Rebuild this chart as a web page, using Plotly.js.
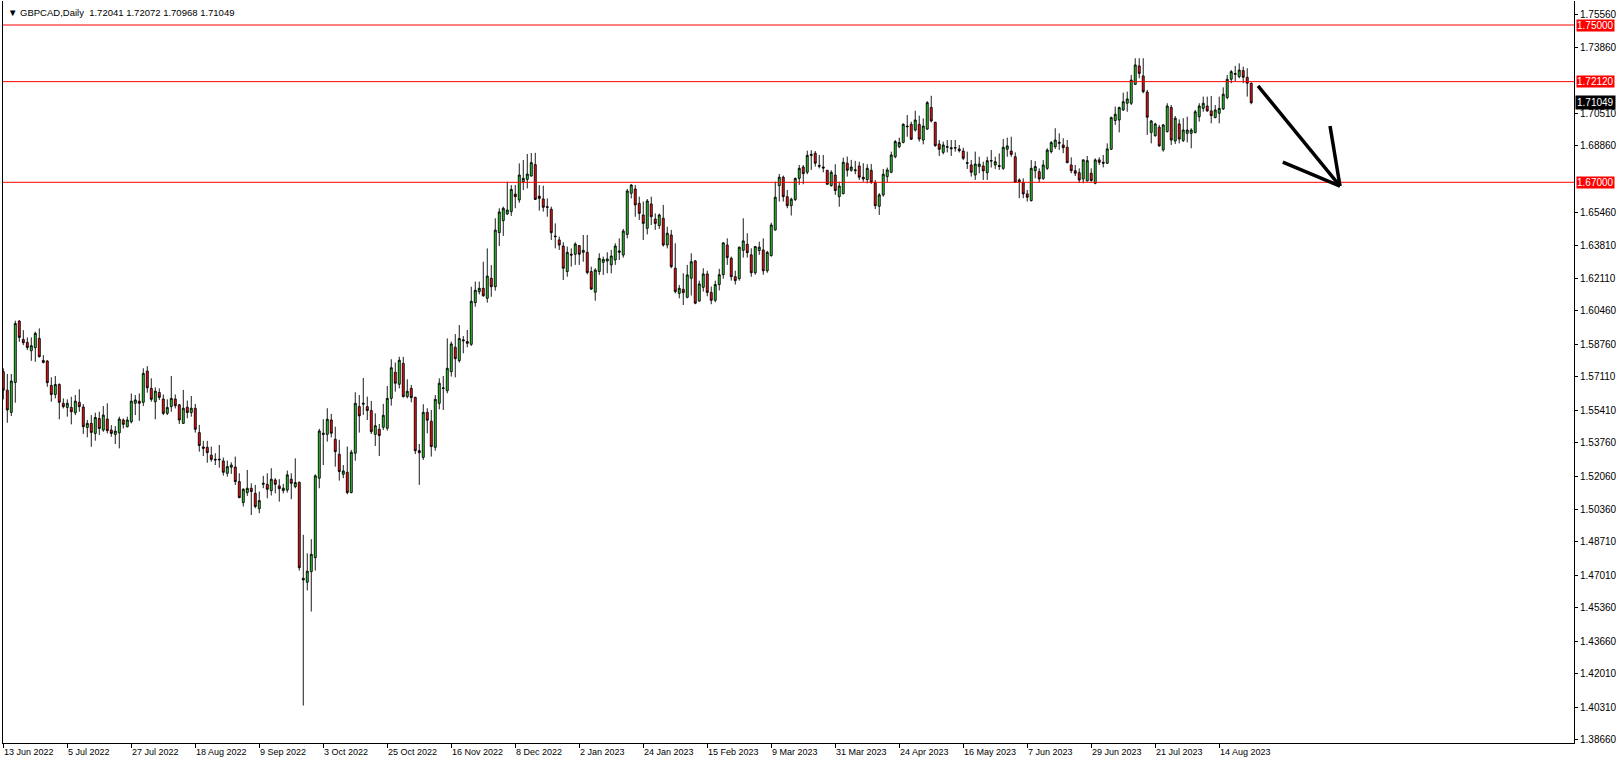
<!DOCTYPE html>
<html>
<head>
<meta charset="utf-8">
<script src="https://cdn.plot.ly/plotly-3.0.1.min.js"></script>
<style>
html,body{margin:0;padding:0;background:#fff;}
#chart{width:1620px;height:764px;}
</style>
</head>
<body>
<div id="chart"></div>
<script>
// ---- data ----
const symbol = "GBPCAD,Daily";
const firstDate = "2022-06-13";
const barCount = 313;
const closedDays = ["2022-12-26"];

const open = [
1.5737,1.5643,1.5530,1.5682,1.5994,1.5901,1.5886,1.5843,1.5859,1.5906,
1.5794,1.5791,1.5667,1.5621,1.5672,1.5576,1.5555,1.5555,1.5528,1.5581,
1.5557,1.5453,1.5474,1.5423,1.5499,1.5440,1.5496,1.5440,1.5418,1.5426,
1.5491,1.5457,1.5482,1.5576,1.5587,1.5581,1.5740,1.5652,1.5584,1.5631,
1.5598,1.5525,1.5559,1.5598,1.5568,1.5474,1.5556,1.5529,1.5551,1.5427,
1.5354,1.5352,1.5312,1.5291,1.5288,1.5283,1.5220,1.5251,1.5252,1.5178,
1.5071,1.5122,1.5144,1.5118,1.5040,1.5164,1.5164,1.5132,1.5186,1.5156,
1.5132,1.5135,1.5190,1.5152,1.5174,1.4686,1.4666,1.4720,1.4791,1.5195,
1.5424,1.5418,1.5491,1.5393,1.5317,1.5215,1.5225,1.5122,1.5322,1.5559,
1.5571,1.5559,1.5539,1.5418,1.5444,1.5454,1.5449,1.5601,1.5734,1.5673,
1.5779,1.5610,1.5652,1.5606,1.5335,1.5301,1.5530,1.5485,1.5352,1.5576,
1.5651,1.5640,1.5737,1.5861,1.5793,1.5893,1.5890,1.5876,1.6088,1.6144,
1.6161,1.6110,1.6212,1.6169,1.6444,1.6505,1.6539,1.6551,1.6640,1.6610,
1.6703,1.6715,1.6732,1.6790,1.6630,1.6615,1.6576,1.6563,1.6427,1.6407,
1.6376,1.6246,1.6334,1.6334,1.6378,1.6344,1.6344,1.6246,1.6141,1.6246,
1.6293,1.6300,1.6280,1.6305,1.6351,1.6330,1.6435,1.6644,1.6666,1.6593,
1.6534,1.6466,1.6590,1.6513,1.6480,1.6517,1.6381,1.6432,1.6263,1.6135,
1.6156,1.6115,1.6212,1.6300,1.6096,1.6166,1.6234,1.6140,1.6100,1.6180,
1.6230,1.6381,1.6314,1.6220,1.6210,1.6354,1.6385,1.6331,1.6240,1.6353,
1.6356,1.6250,1.6327,1.6458,1.6683,1.6726,1.6627,1.6581,1.6612,1.6720,
1.6778,1.6751,1.6836,1.6848,1.6786,1.6778,1.6761,1.6683,1.6737,1.6627,
1.6642,1.6797,1.6761,1.6759,1.6783,1.6726,1.6714,1.6761,1.6698,1.6578,
1.6636,1.6729,1.6751,1.6830,1.6881,1.6903,1.6986,1.6995,1.6966,1.6995,
1.6915,1.6971,1.7081,1.7005,1.6895,1.6852,1.6878,1.6876,1.6874,1.6869,
1.6859,1.6800,1.6788,1.6737,1.6780,1.6783,1.6749,1.6808,1.6788,1.6785,
1.6771,1.6868,1.6859,1.6830,1.6712,1.6700,1.6641,1.6607,1.6759,1.6754,
1.6720,1.6771,1.6856,1.6881,1.6898,1.6890,1.6878,1.6788,1.6759,1.6749,
1.6717,1.6707,1.6746,1.6695,1.6814,1.6802,1.6797,1.6868,1.7014,1.7017,
1.7068,1.7102,1.7102,1.7198,1.7292,1.7241,1.7159,1.6954,1.6937,1.6980,
1.6865,1.6958,1.7081,1.6910,1.6997,1.6912,1.6949,1.6949,1.6953,1.7034,
1.7076,1.7088,1.7063,1.7029,1.7051,1.7073,1.7131,1.7224,1.7249,1.7237,
1.7268,1.7234,1.72041];
const high = [
1.5754,1.5725,1.5725,1.5996,1.5999,1.5948,1.5911,1.5911,1.5940,1.5957,
1.5821,1.5796,1.5708,1.5715,1.5677,1.5601,1.5596,1.5609,1.5618,1.5647,
1.5572,1.5491,1.5516,1.5528,1.5533,1.5562,1.5576,1.5465,1.5460,1.5508,
1.5499,1.5508,1.5626,1.5618,1.5626,1.5754,1.5765,1.5703,1.5657,1.5652,
1.5621,1.5596,1.5715,1.5621,1.5573,1.5644,1.5590,1.5613,1.5573,1.5466,
1.5385,1.5385,1.5356,1.5322,1.5364,1.5300,1.5285,1.5276,1.5305,1.5220,
1.5144,1.5237,1.5169,1.5161,1.5127,1.5207,1.5220,1.5246,1.5195,1.5190,
1.5166,1.5234,1.5220,1.5296,1.5178,1.4907,1.4813,1.4885,1.5215,1.5446,
1.5495,1.5551,1.5522,1.5457,1.5390,1.5262,1.5356,1.5339,1.5632,1.5618,
1.5705,1.5610,1.5588,1.5525,1.5471,1.5573,1.5664,1.5800,1.5783,1.5813,
1.5812,1.5698,1.5669,1.5610,1.5369,1.5571,1.5551,1.5542,1.5618,1.5703,
1.5715,1.5906,1.5890,1.5928,1.5974,1.5918,1.5949,1.6169,1.6195,1.6195,
1.6296,1.6364,1.6279,1.6517,1.6568,1.6576,1.6703,1.6686,1.6686,1.6796,
1.6813,1.6844,1.6849,1.6850,1.6686,1.6683,1.6618,1.6576,1.6491,1.6424,
1.6395,1.6373,1.6364,1.6395,1.6381,1.6432,1.6432,1.6271,1.6263,1.6339,
1.6322,1.6344,1.6356,1.6390,1.6415,1.6463,1.6666,1.6691,1.6686,1.6627,
1.6602,1.6615,1.6627,1.6542,1.6541,1.6585,1.6474,1.6458,1.6390,1.6178,
1.6237,1.6280,1.6339,1.6305,1.6200,1.6263,1.6250,1.6170,1.6200,1.6260,
1.6395,1.6415,1.6322,1.6250,1.6373,1.6517,1.6441,1.6364,1.6376,1.6398,
1.6415,1.6351,1.6495,1.6703,1.6742,1.6734,1.6661,1.6622,1.6724,1.6788,
1.6788,1.6861,1.6863,1.6859,1.6839,1.6839,1.6763,1.6761,1.6792,1.6703,
1.6825,1.6831,1.6814,1.6809,1.6805,1.6797,1.6792,1.6793,1.6712,1.6645,
1.6768,1.6775,1.6856,1.6915,1.6927,1.7000,1.7042,1.7008,1.7064,1.7039,
1.7025,1.7113,1.7140,1.7008,1.6915,1.6907,1.6915,1.6915,1.6915,1.6890,
1.6876,1.6856,1.6813,1.6856,1.6830,1.6805,1.6830,1.6864,1.6830,1.6847,
1.6920,1.6927,1.6932,1.6852,1.6720,1.6720,1.6661,1.6813,1.6808,1.6771,
1.6813,1.6873,1.6910,1.6975,1.6949,1.6924,1.6915,1.6827,1.6788,1.6771,
1.6817,1.6834,1.6771,1.6822,1.6827,1.6839,1.6898,1.7034,1.7085,1.7085,
1.7156,1.7161,1.7246,1.7331,1.7331,1.7331,1.7170,1.7017,1.7003,1.6992,
1.6997,1.7102,1.7093,1.7037,1.7020,1.7026,1.7034,1.6975,1.7068,1.7102,
1.7136,1.7136,1.7139,1.7093,1.7136,1.7183,1.7246,1.7271,1.7292,1.7305,
1.7288,1.7280,1.72072];
const low = [
1.5596,1.5477,1.5511,1.5579,1.5889,1.5872,1.5847,1.5792,1.5787,1.5809,
1.5779,1.5660,1.5584,1.5601,1.5494,1.5550,1.5508,1.5469,1.5516,1.5533,
1.5420,1.5403,1.5355,1.5386,1.5415,1.5431,1.5423,1.5406,1.5369,1.5347,
1.5448,1.5453,1.5474,1.5516,1.5487,1.5562,1.5630,1.5584,1.5494,1.5593,
1.5516,1.5516,1.5533,1.5550,1.5471,1.5471,1.5500,1.5508,1.5427,1.5330,
1.5308,1.5274,1.5279,1.5262,1.5249,1.5208,1.5203,1.5217,1.5161,1.5094,
1.5051,1.5105,1.5008,1.5042,1.5017,1.5144,1.5093,1.5107,1.5118,1.5076,
1.5118,1.5122,1.5088,1.5144,1.4725,1.4039,1.4624,1.4517,1.4725,1.5144,
1.5262,1.5381,1.5403,1.5254,1.5183,1.5195,1.5113,1.5118,1.5284,1.5427,
1.5517,1.5491,1.5420,1.5359,1.5308,1.5440,1.5437,1.5564,1.5635,1.5652,
1.5605,1.5601,1.5581,1.5318,1.5161,1.5288,1.5423,1.5305,1.5335,1.5545,
1.5542,1.5627,1.5712,1.5708,1.5783,1.5830,1.5861,1.5868,1.6067,1.6130,
1.6118,1.6088,1.6118,1.6149,1.6376,1.6427,1.6534,1.6529,1.6568,1.6596,
1.6661,1.6669,1.6729,1.6610,1.6556,1.6551,1.6525,1.6407,1.6364,1.6356,
1.6203,1.6220,1.6271,1.6280,1.6280,1.6296,1.6232,1.6152,1.6098,1.6229,
1.6229,1.6237,1.6237,1.6280,1.6305,1.6317,1.6415,1.6618,1.6525,1.6508,
1.6407,1.6435,1.6483,1.6458,1.6463,1.6373,1.6364,1.6263,1.6135,1.6110,
1.6076,1.6110,1.6124,1.6080,1.6093,1.6144,1.6120,1.6080,1.6090,1.6150,
1.6210,1.6280,1.6200,1.6180,1.6200,1.6317,1.6317,1.6220,1.6230,1.6331,
1.6230,1.6240,1.6322,1.6454,1.6602,1.6602,1.6568,1.6531,1.6605,1.6687,
1.6690,1.6741,1.6763,1.6780,1.6771,1.6751,1.6687,1.6678,1.6636,1.6576,
1.6639,1.6729,1.6754,1.6741,1.6712,1.6703,1.6695,1.6692,1.6564,1.6534,
1.6627,1.6700,1.6746,1.6822,1.6873,1.6898,1.6932,1.6915,1.6958,1.6907,
1.6893,1.6966,1.7005,1.6881,1.6834,1.6842,1.6852,1.6834,1.6856,1.6852,
1.6813,1.6768,1.6729,1.6712,1.6746,1.6712,1.6712,1.6775,1.6768,1.6763,
1.6763,1.6830,1.6830,1.6698,1.6619,1.6619,1.6602,1.6602,1.6720,1.6700,
1.6712,1.6763,1.6847,1.6870,1.6865,1.6848,1.6797,1.6746,1.6732,1.6698,
1.6695,1.6705,1.6703,1.6690,1.6788,1.6776,1.6793,1.6865,1.6992,1.6954,
1.7063,1.7059,1.7093,1.7195,1.7229,1.7153,1.6941,1.6898,1.6932,1.6881,
1.6856,1.6953,1.6890,1.6895,1.6898,1.6905,1.6903,1.6873,1.6949,1.7009,
1.7059,1.7059,1.7000,1.7026,1.7000,1.7068,1.7122,1.7204,1.7215,1.7229,
1.7204,1.7136,1.70968];
const close = [
1.5643,1.5542,1.5689,1.5982,1.5911,1.5884,1.5860,1.5869,1.5932,1.5813,
1.5784,1.5681,1.5621,1.5672,1.5581,1.5559,1.5576,1.5533,1.5587,1.5559,
1.5457,1.5474,1.5428,1.5504,1.5448,1.5516,1.5437,1.5423,1.5435,1.5496,
1.5469,1.5491,1.5587,1.5593,1.5576,1.5728,1.5655,1.5596,1.5638,1.5606,
1.5525,1.5555,1.5601,1.5564,1.5491,1.5551,1.5529,1.5551,1.5444,1.5361,
1.5347,1.5325,1.5291,1.5288,1.5291,1.5225,1.5254,1.5262,1.5178,1.5096,
1.5139,1.5144,1.5127,1.5051,1.5081,1.5169,1.5139,1.5190,1.5164,1.5142,
1.5144,1.5212,1.5169,1.5173,1.4740,1.4678,1.4722,1.4808,1.5207,1.5435,
1.5418,1.5495,1.5424,1.5330,1.5229,1.5232,1.5122,1.5327,1.5576,1.5512,
1.5576,1.5539,1.5432,1.5462,1.5412,1.5515,1.5601,1.5757,1.5678,1.5795,
1.5610,1.5637,1.5605,1.5335,1.5325,1.5530,1.5490,1.5356,1.5596,1.5678,
1.5654,1.5754,1.5878,1.5803,1.5906,1.5898,1.5881,1.6095,1.6151,1.6161,
1.6123,1.6223,1.6169,1.6457,1.6549,1.6568,1.6559,1.6664,1.6627,1.6737,
1.6720,1.6742,1.6800,1.6613,1.6618,1.6573,1.6573,1.6444,1.6424,1.6381,
1.6263,1.6344,1.6330,1.6386,1.6334,1.6354,1.6241,1.6157,1.6254,1.6313,
1.6308,1.6310,1.6325,1.6376,1.6344,1.6452,1.6656,1.6686,1.6585,1.6542,
1.6491,1.6605,1.6525,1.6491,1.6534,1.6381,1.6441,1.6271,1.6144,1.6161,
1.6139,1.6229,1.6296,1.6085,1.6183,1.6234,1.6140,1.6100,1.6180,1.6230,
1.6392,1.6317,1.6220,1.6200,1.6370,1.6402,1.6342,1.6240,1.6373,1.6370,
1.6250,1.6344,1.6483,1.6624,1.6726,1.6627,1.6581,1.6614,1.6720,1.6771,
1.6744,1.6837,1.6842,1.6797,1.6782,1.6773,1.6690,1.6751,1.6658,1.6681,
1.6802,1.6761,1.6778,1.6763,1.6726,1.6717,1.6771,1.6700,1.6581,1.6636,
1.6741,1.6763,1.6839,1.6907,1.6902,1.6995,1.6983,1.6919,1.7017,1.6920,
1.6986,1.7105,1.7012,1.6886,1.6868,1.6890,1.6881,1.6871,1.6876,1.6861,
1.6822,1.6797,1.6751,1.6793,1.6793,1.6758,1.6810,1.6810,1.6805,1.6781,
1.6878,1.6885,1.6842,1.6700,1.6703,1.6641,1.6624,1.6771,1.6780,1.6717,
1.6788,1.6864,1.6902,1.6915,1.6903,1.6876,1.6800,1.6759,1.6746,1.6712,
1.6814,1.6810,1.6709,1.6814,1.6802,1.6797,1.6870,1.7029,1.7046,1.7080,
1.7110,1.7124,1.7220,1.7297,1.7254,1.7161,1.7031,1.7012,1.6997,1.6885,
1.6992,1.7088,1.6915,1.7026,1.6920,1.6966,1.6966,1.6966,1.7059,1.7088,
1.7102,1.7063,1.7039,1.7068,1.7076,1.7148,1.7224,1.7263,1.7253,1.7271,
1.7234,1.7204,1.71049];

const levels = [1.75000, 1.72120, 1.67000];
const levelLabels = ["1.75000", "1.72120", "1.67000"];
const lastClose = 1.71049;
const lastCloseLabel = "1.71049";
const headerValues = "1.72041 1.72072 1.70968 1.71049";

const priceTicks = [1.38660,1.40310,1.42010,1.43660,1.45360,1.47010,1.48710,1.50360,1.52060,1.53760,
  1.55410,1.57110,1.58760,1.60460,1.62110,1.63810,1.65460,1.68860,1.70510,1.73860,1.75560];

const tickDates = ["2022-06-13","2022-07-05","2022-07-27","2022-08-18","2022-09-09","2022-10-03","2022-10-25",
  "2022-11-16","2022-12-08","2023-01-02","2023-01-24","2023-02-15","2023-03-09","2023-03-31","2023-04-24",
  "2023-05-16","2023-06-07","2023-06-29","2023-07-21","2023-08-14"];
const tickLabels = ["13 Jun 2022","5 Jul 2022","27 Jul 2022","18 Aug 2022","9 Sep 2022","3 Oct 2022","25 Oct 2022",
  "16 Nov 2022","8 Dec 2022","2 Jan 2023","24 Jan 2023","15 Feb 2023","9 Mar 2023","31 Mar 2023","24 Apr 2023",
  "16 May 2023","7 Jun 2023","29 Jun 2023","21 Jul 2023","14 Aug 2023"];

// drawn arrow (bar position, price)
const arrowShaft = [[313.7, 1.7190], [334.2, 1.6681]];
const arrowHeadA = [[319.9, 1.6803], [334.2, 1.6681]];
const arrowHeadB = [[331.7, 1.6986], [334.2, 1.6681]];

// ---- trading days ----
function buildDates(start, n, skip) {
  const out = [];
  const d = new Date(start + "T00:00:00Z");
  while (out.length < n) {
    const wd = d.getUTCDay();
    const s = d.toISOString().slice(0, 10);
    if (wd !== 0 && wd !== 6 && skip.indexOf(s) < 0) out.push(s);
    d.setUTCDate(d.getUTCDate() + 1);
  }
  return out;
}
const dates = buildDates(firstDate, barCount, closedDays);

// ---- chart ----
const GREEN = "#30d030", RED = "#ff1010";
const FONT = "Liberation Sans, Arial, sans-serif";

const trace = {
  type: "candlestick",
  x: dates, open: open, high: high, low: low, close: close,
  increasing: {fillcolor: GREEN, line: {color: "#000", width: 0.9}},
  decreasing: {fillcolor: RED, line: {color: "#000", width: 0.9}},
  whiskerwidth: 0,
  hoverinfo: "skip",
  showlegend: false
};

const shapes = levels.map(v => ({
  type: "line", xref: "paper", x0: 0, x1: 1, yref: "y", y0: v, y1: v,
  line: {color: "#ff0000", width: 1}
}));
[arrowShaft, arrowHeadA, arrowHeadB].forEach(seg => shapes.push({
  type: "line", xref: "x", yref: "y",
  x0: seg[0][0], y0: seg[0][1], x1: seg[1][0], y1: seg[1][1],
  line: {color: "#000", width: 3.5}
}));

const annotations = [];
annotations.push({
  xref: "paper", yref: "paper", x: 0, y: 1, xanchor: "left", yanchor: "top",
  xshift: 3, yshift: -4, showarrow: false,
  text: "\u25BC GBPCAD,Daily  " + headerValues,
  font: {family: FONT, size: 9.5, color: "#000"}
});
tickDates.forEach((d, i) => annotations.push({
  xref: "x", yref: "paper", x: d, y: 0, xanchor: "left", yanchor: "top",
  xshift: -1, yshift: -2, showarrow: false, text: tickLabels[i],
  font: {family: FONT, size: 9, color: "#000"}
}));
levels.forEach((v, i) => annotations.push({
  xref: "paper", yref: "y", x: 1, y: v, xanchor: "left", yanchor: "middle",
  xshift: 2, showarrow: false, text: levelLabels[i], bgcolor: "#ff0000",
  borderpad: 0, font: {family: FONT, size: 10, color: "#fff"}
}));
annotations.push({
  xref: "paper", yref: "y", x: 1, y: lastClose, xanchor: "left", yanchor: "middle",
  xshift: 1, showarrow: false, text: lastCloseLabel, bgcolor: "#000",
  borderpad: 1, font: {family: FONT, size: 10, color: "#fff"}
});

const layout = {
  width: 1620, height: 764,
  margin: {l: 3, r: 46, t: 1, b: 21},
  paper_bgcolor: "#fff", plot_bgcolor: "#fff",
  showlegend: false,
  xaxis: {
    type: "category", range: [-0.075, 392.7],
    rangeslider: {visible: false},
    showgrid: false, zeroline: false,
    showline: true, linecolor: "#000", linewidth: 1,
    ticks: "outside", ticklen: 4, tickcolor: "#000",
    tickvals: tickDates, showticklabels: false, fixedrange: true
  },
  yaxis: {
    side: "right", range: [1.38483, 1.76221],
    showgrid: false, zeroline: false,
    showline: true, mirror: true, linecolor: "#000", linewidth: 1,
    ticks: "outside", ticklen: 3, tickcolor: "#000",
    tickvals: priceTicks, ticktext: priceTicks.map(v => v.toFixed(5)),
    tickfont: {family: FONT, size: 10, color: "#000"},
    fixedrange: true
  },
  shapes: shapes,
  annotations: annotations
};

Plotly.newPlot("chart", [trace], layout, {staticPlot: true, displayModeBar: false});
</script>
</body>
</html>
